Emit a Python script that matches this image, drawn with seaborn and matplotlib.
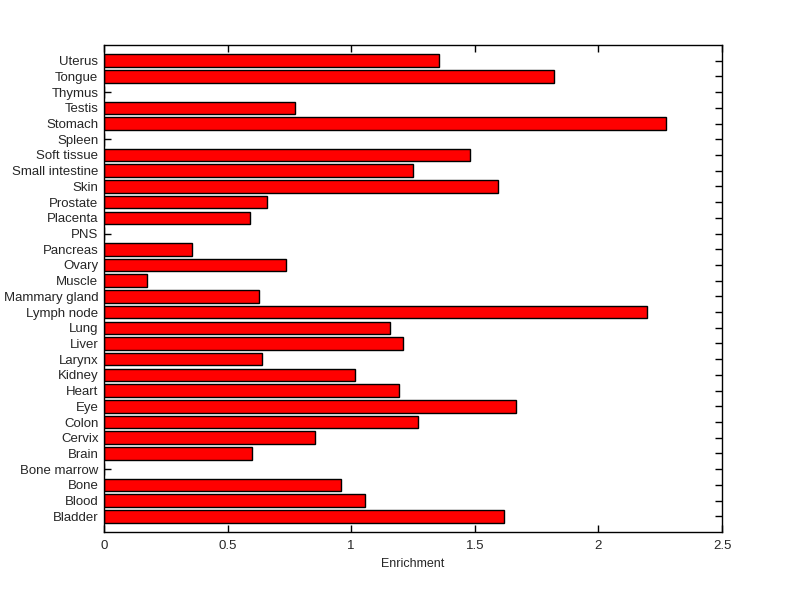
import matplotlib
matplotlib.use("Agg")
import matplotlib.pyplot as plt
import seaborn as sns
import pandas as pd

# tissues, listed top to bottom as in the chart
tissues = ["Uterus", "Tongue", "Thymus", "Testis", "Stomach", "Spleen",
           "Soft tissue", "Small intestine", "Skin", "Prostate", "Placenta",
           "PNS", "Pancreas", "Ovary", "Muscle", "Mammary gland", "Lymph node",
           "Lung", "Liver", "Larynx", "Kidney", "Heart", "Eye", "Colon",
           "Cervix", "Brain", "Bone marrow", "Bone", "Blood", "Bladder"]
enrichment = [1.356, 1.82, 0.0, 0.772, 2.275, 0.0,
              1.481, 1.248, 1.595, 0.659, 0.589,
              0.0, 0.355, 0.735, 0.173, 0.627, 2.196,
              1.156, 1.208, 0.639, 1.014, 1.192, 1.668, 1.269,
              0.852, 0.599, 0.0, 0.958, 1.055, 1.62]
x_ticks = [0, 0.5, 1, 1.5, 2, 2.5]
x_ticklabels = ["0", "0.5", "1", "1.5", "2", "2.5"]

df = pd.DataFrame({"tissue": tissues, "enrichment": enrichment})

sns.set_style("ticks")
plt.rcParams["font.family"] = ["Liberation Sans", "DejaVu Sans"]

fig = plt.figure(figsize=(8, 5.99), dpi=100)
ax = fig.add_axes([0.13, 0.1118, 0.7725, 0.8131])

sns.barplot(data=df, x="enrichment", y="tissue", orient="h", order=tissues,
            color="#ff0000", saturation=1, edgecolor="black", linewidth=1,
            width=0.8, ax=ax)

ax.set_xlim(0, 2.5)
ax.set_ylim(30, -1)
ax.set_xticks(x_ticks)
ax.set_xticklabels(x_ticklabels, fontsize=9.5)
ax.tick_params(axis="y", labelsize=9.5)
ax.tick_params(direction="in", length=5, width=1, color="black",
               top=True, right=True, pad=4)
ax.tick_params(axis="x", pad=6)
for s in ax.spines.values():
    s.set_visible(True)
    s.set_color("black")
    s.set_linewidth(1)
ax.set_xlabel("Enrichment", fontsize=9, labelpad=4)
ax.set_ylabel("")

fig.savefig("out.png", dpi=100, facecolor="white")
